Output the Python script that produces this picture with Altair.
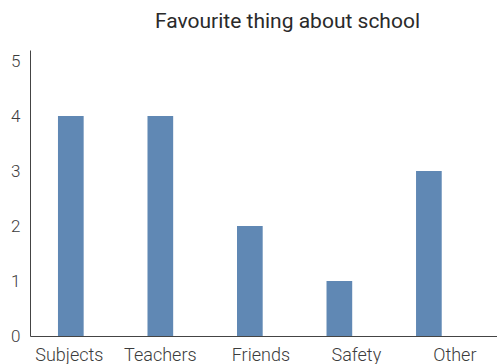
import altair as alt
import pandas as pd

categories = ["Subjects", "Teachers", "Friends", "Safety", "Other"]
counts = [4, 4, 2, 1, 3]
y_ticks = [0, 1, 2, 3, 4, 5]

# label shifts (style) to mimic the reference's label placement
label_shift = [-1.5, 0, 11, 17, 26]

df = pd.DataFrame({"thing": categories, "count": counts})

FONT = "Roboto"
TEXT = "#3c3c3c"

cond = [{"test": f"datum.value == '{c}'", "value": s} for c, s in zip(categories, label_shift)]

chart = alt.Chart(df).mark_bar(color="#6088B4").encode(
    x=alt.X("thing:N", sort=categories, title=None,
            scale=alt.Scale(paddingInner=0.713, paddingOuter=0.465, align=0.336),
            axis=alt.Axis(labelAngle=0, ticks=False, domainColor="#444444", domainWidth=1,
                          labelFont=FONT, labelFontSize=18, labelColor=TEXT, labelFontWeight=300,
                          labelPadding=10, labelOffset={"condition": cond, "value": 0})),
    y=alt.Y("count:Q", title=None,
            scale=alt.Scale(domain=[0, 5.2], nice=False),
            axis=alt.Axis(values=y_ticks, grid=False, ticks=False, domainColor="#444444", domainWidth=1,
                          labelFont=FONT, labelFontSize=17, labelColor=TEXT, labelFontWeight=300,
                          labelPadding=10)),
).properties(
    width=467, height=286,
    title=alt.TitleParams("Favourite thing about school", font=FONT, fontSize=21,
                          fontWeight=400, color="#2a2a2a", anchor="middle", dx=24, offset=18),
    autosize=alt.AutoSizeParams(type="none"),
    padding={"left": 30, "top": 50, "right": 0, "bottom": 28},
).configure_view(stroke=None)

chart.save("out.html", embed_options={"renderer": "svg", "actions": False})
